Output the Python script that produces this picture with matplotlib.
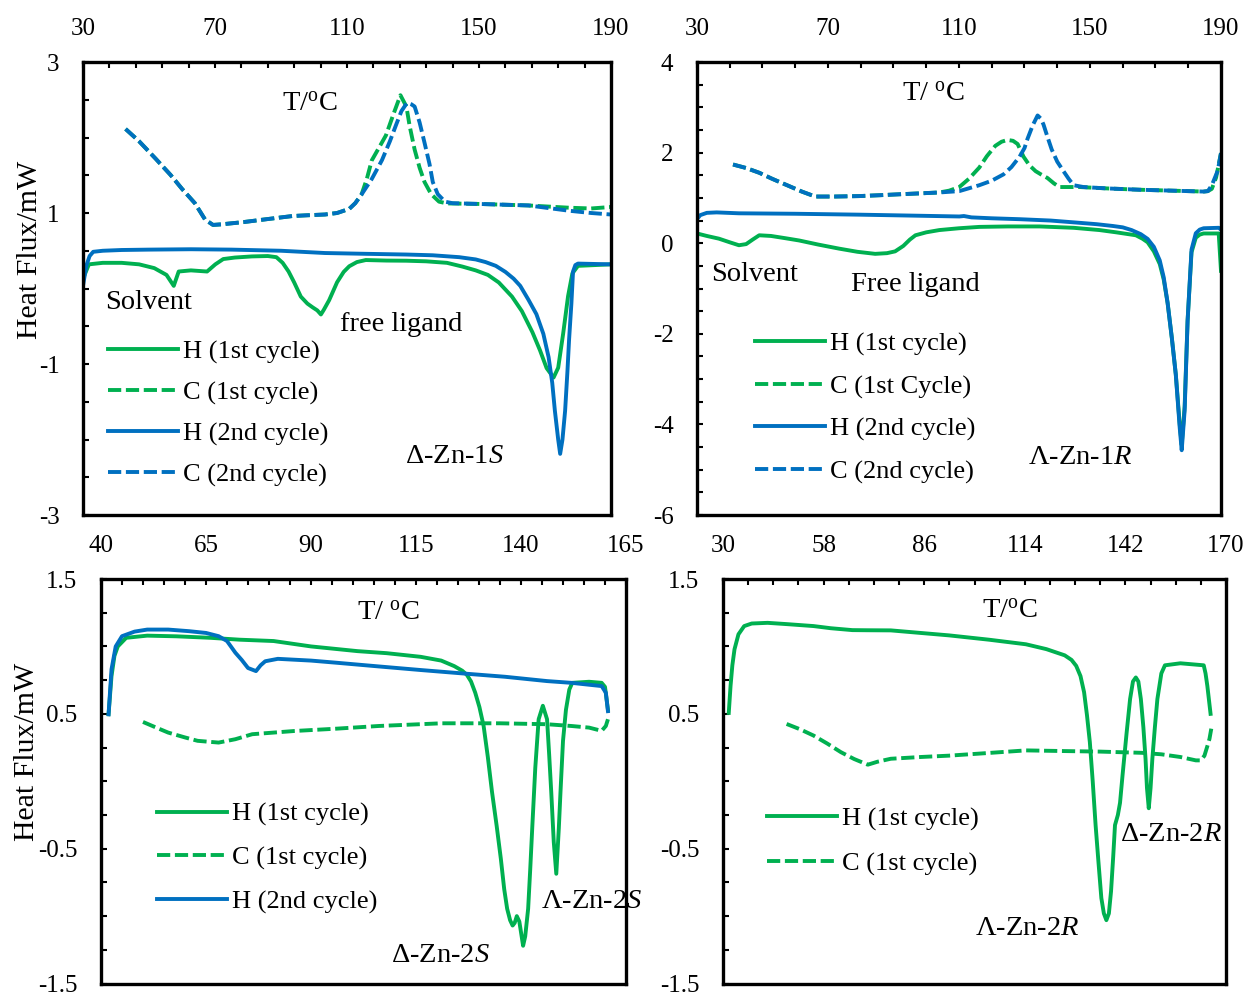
import matplotlib
matplotlib.use("Agg")
import numpy as np
import matplotlib.pyplot as plt
from matplotlib.ticker import FixedLocator

plt.rcParams["font.family"] = "Liberation Serif"
plt.rcParams["mathtext.fontset"] = "custom"
plt.rcParams["mathtext.rm"] = "Liberation Serif"
plt.rcParams["mathtext.it"] = "Liberation Serif:italic"
plt.rcParams["axes.unicode_minus"] = False

GREEN = "#00B050"
BLUE = "#0070C0"

# ---- Delta-Zn-1S ----
p1_h1_t = [30, 31.8, 36, 41.7, 47, 51.6, 55.3, 57.5, 59, 62.7, 67.6, 70.1, 72.5, 76, 81.2, 86, 88.6, 90.5,
           92.3, 94, 96, 98, 99.6, 101, 102.1, 103, 104.6, 107, 109, 110.7, 113, 115.7, 122, 128, 134, 140.3,
           145, 149, 152.7, 156, 160, 163, 166.2, 168.5, 170.5, 172.6, 174, 175.5, 177, 178.3, 180, 190]
p1_h1_v = [0.13, 0.32, 0.34, 0.34, 0.32, 0.27, 0.18, 0.035, 0.225, 0.24, 0.225, 0.32, 0.39, 0.41, 0.425, 0.43,
           0.415, 0.34, 0.225, 0.08, -0.107, -0.2, -0.25, -0.29, -0.344, -0.28, -0.154, 0.083, 0.22, 0.295,
           0.35, 0.377, 0.37, 0.368, 0.36, 0.34, 0.29, 0.24, 0.18, 0.08, -0.107, -0.3, -0.58, -0.82, -1.055,
           -1.18, -1.05, -0.6, -0.1, 0.2, 0.3, 0.32]
p1_h2_t = [30, 31, 32, 33.1, 36, 41.7, 50, 62.7, 75, 90, 103.3, 115, 128, 136, 144, 149, 152, 155.1, 158, 160.5,
           162.5, 165, 167.4, 169.5, 171.1, 172.2, 173, 174, 174.6, 175.3, 176.1, 176.8, 177.3, 178, 178.5,
           179.2, 180, 190]
p1_h2_v = [0.035, 0.3, 0.43, 0.486, 0.5, 0.51, 0.515, 0.52, 0.515, 0.5, 0.47, 0.46, 0.45, 0.44, 0.415, 0.385,
           0.35, 0.30, 0.22, 0.13, 0.035, -0.15, -0.34, -0.6, -0.91, -1.25, -1.62, -2.0, -2.19, -2.0, -1.62,
           -1.1, -0.68, -0.2, 0.225, 0.31, 0.33, 0.32]
p1_c1_t = [42.9, 47, 52, 56.5, 60, 63.9, 67, 69.4, 72, 78.7, 86, 93.5, 98, 103.3, 107, 110.7, 112.5, 114.4, 116,
           117.5, 119.5, 121.8, 124, 126.2, 128, 129, 130.5, 132, 133.5, 135.5, 137.9, 140.3, 150, 165, 177.3,
           184, 190]
p1_c1_v = [2.113, 1.95, 1.72, 1.506, 1.32, 1.13, 0.913, 0.842, 0.85, 0.88, 0.92, 0.96, 0.97, 0.98, 1.0, 1.055,
           1.13, 1.245, 1.45, 1.696, 1.85, 2.028, 2.3, 2.56, 2.41, 2.15, 1.84, 1.6, 1.41, 1.25, 1.15, 1.127,
           1.12, 1.10, 1.07, 1.06, 1.08]
p1_c2_t = [42.9, 47, 52, 56.5, 60, 63.9, 67, 69.4, 72, 78.7, 86, 93.5, 98, 103.3, 107, 110.7, 112.5, 114.4,
           117.5, 120.6, 123, 124.9, 126.5, 128.2, 129.5, 130.5, 132, 133.5, 135, 136, 137.5, 139.7, 142, 150,
           165, 177.3, 184, 190]
p1_c2_v = [2.113, 1.95, 1.72, 1.506, 1.32, 1.13, 0.913, 0.842, 0.85, 0.88, 0.92, 0.96, 0.97, 0.98, 1.0, 1.055,
           1.13, 1.245, 1.45, 1.70, 1.95, 2.17, 2.35, 2.46, 2.44, 2.41, 2.2, 1.93, 1.65, 1.41, 1.25, 1.15, 1.13,
           1.12, 1.10, 1.03, 1.0, 0.98]

# ---- Lambda-Zn-1R ----
p2_h1_t = [30, 33, 36.7, 40, 42.8, 45, 47, 49, 52.6, 57, 61.2, 67, 73.4, 79, 84.4, 88, 90.5, 93, 95, 96.7,
           100, 104, 110, 116.2, 125, 134.6, 145, 152.9, 158, 164, 166, 167.6, 169.5, 171.3, 172.5, 173.7, 175,
           176.2, 177.4, 178, 178.9, 179.8, 181, 182.3, 183.5, 184.7, 189.3, 190]
p2_h1_v = [0.215, 0.16, 0.10, 0.02, -0.045, -0.02, 0.08, 0.175, 0.16, 0.11, 0.06, -0.03, -0.12, -0.19, -0.235,
           -0.22, -0.18, -0.06, 0.08, 0.175, 0.24, 0.29, 0.33, 0.36, 0.37, 0.37, 0.34, 0.29, 0.24, 0.175, 0.1,
           0.02, -0.18, -0.46, -0.8, -1.32, -2.1, -2.9, -4.0, -4.45, -3.6, -1.7, -0.2, 0.12, 0.19, 0.215, 0.215,
           -0.61]
p2_h2_t = [30, 31, 33, 36, 42.8, 60, 79.5, 95, 110.1, 111.5, 113.8, 120, 128.5, 138, 146.8, 152, 157, 160,
           162.7, 165.5, 167.6, 169.5, 171.3, 172.5, 173.7, 175, 176.2, 177.4, 178, 178.9, 179.8, 181, 182.3,
           183.5, 184.7, 189.3, 190]
p2_h2_v = [0.53, 0.62, 0.67, 0.68, 0.66, 0.65, 0.63, 0.61, 0.59, 0.6, 0.57, 0.55, 0.53, 0.5, 0.45, 0.42, 0.38,
           0.35, 0.29, 0.2, 0.095, -0.08, -0.38, -0.75, -1.32, -2.1, -2.9, -4.08, -4.57, -3.69, -1.72, -0.14,
           0.22, 0.3, 0.33, 0.34, 0.3]
p2_c1_t = [41, 45, 49, 53, 57.5, 62, 66.1, 72, 79.5, 86, 91.8, 98, 104, 107, 110.1, 113, 116.2, 118.5, 121.1,
           123, 124.8, 126.5, 127.9, 129.7, 131.5, 133.4, 135, 137, 139, 140.7, 146.8, 155, 165.2, 175, 184.7,
           186, 187.2, 188.5, 190]
p2_c1_v = [1.737, 1.66, 1.555, 1.42, 1.28, 1.14, 1.03, 1.03, 1.04, 1.06, 1.08, 1.1, 1.12, 1.16, 1.24, 1.42,
           1.67, 1.92, 2.15, 2.24, 2.28, 2.26, 2.19, 1.91, 1.72, 1.59, 1.52, 1.44, 1.32, 1.24, 1.24, 1.21, 1.18,
           1.16, 1.14, 1.15, 1.2, 1.45, 1.99]
p2_c2_t = [41, 45, 49, 53, 57.5, 62, 66.1, 72, 79.5, 86, 91.8, 98, 104, 110.1, 116.2, 120, 123.6, 126, 128.5,
           130, 130.9, 132.5, 134, 135, 135.8, 137, 138.3, 140, 141.9, 143.5, 145, 148, 155, 165.2, 175, 184.7,
           186, 187.2, 189, 190]
p2_c2_v = [1.737, 1.66, 1.555, 1.42, 1.28, 1.14, 1.03, 1.03, 1.04, 1.06, 1.08, 1.1, 1.12, 1.15, 1.28, 1.38,
           1.52, 1.68, 1.91, 2.1, 2.30, 2.6, 2.82, 2.75, 2.62, 2.35, 2.07, 1.8, 1.59, 1.42, 1.28, 1.24, 1.21,
           1.18, 1.16, 1.14, 1.15, 1.28, 1.6, 1.99]

# ---- Zn-2S ----
p3_h1_t = [41.8, 42.5, 43.2, 44, 46, 51, 58, 66, 73, 81.1, 90, 101.1, 108, 116.1, 121, 124.1, 126, 127.1, 128.1,
           129.1, 130.1, 131.1, 132.1, 133.1, 134.2, 135.2, 136, 136.7, 137.4, 138, 138.5, 139, 139.6, 140,
           140.5, 141, 141.7, 142.2, 142.7, 143.4, 144.2, 145.2, 146.2, 146.7, 147.2, 147.8, 148.4, 149, 149.4,
           150, 150.7, 151.5, 152.2, 156.2, 159.2, 160, 160.7]
p3_h1_v = [0.497, 0.78, 0.93, 1.0, 1.064, 1.08, 1.075, 1.064, 1.05, 1.04, 1.0, 0.965, 0.95, 0.923, 0.895, 0.854,
           0.82, 0.79, 0.74, 0.657, 0.55, 0.41, 0.18, -0.08, -0.33, -0.575, -0.8, -0.945, -1.03, -1.07, -1.05,
           -1.0, -1.04, -1.12, -1.22, -1.15, -0.945, -0.65, -0.33, 0.1, 0.46, 0.56, 0.46, 0.2, -0.08, -0.45,
           -0.686, -0.35, -0.08, 0.3, 0.53, 0.68, 0.73, 0.738, 0.73, 0.7, 0.53]
p3_h2_t = [41.8, 42.5, 43.5, 45, 48, 51, 56, 61, 65, 68, 70, 72, 73.5, 75, 76.9, 78, 79.1, 82.1, 90, 96.1, 106,
           116.1, 126, 136.2, 146.2, 152, 159.2, 160.2, 160.7]
p3_h2_v = [0.497, 0.83, 1.0, 1.076, 1.11, 1.125, 1.125, 1.113, 1.1, 1.076, 1.04, 0.953, 0.9, 0.84, 0.817, 0.86,
           0.89, 0.908, 0.895, 0.879, 0.852, 0.825, 0.8, 0.775, 0.743, 0.73, 0.706, 0.657, 0.52]
p3_c1_t = [50, 53, 56, 60, 63, 68, 72, 76, 86.1, 96, 106.1, 121.1, 135, 146.2, 152, 156.2, 159.2, 160.2, 160.7]
p3_c1_v = [0.44, 0.4, 0.361, 0.325, 0.30, 0.287, 0.312, 0.349, 0.373, 0.39, 0.41, 0.43, 0.43, 0.423, 0.41,
           0.398, 0.374, 0.41, 0.46]

# ---- Zn-2R ----
p4_h1_t = [31.6, 32.1, 32.6, 33.2, 34.3, 35.9, 38, 42.4, 48, 55.2, 60, 66, 70, 76.7, 85, 92.9, 104, 114.3, 120,
           125.1, 127, 128.3, 129.5, 130.5, 131.3, 132.1, 132.9, 133.7, 134.5, 135.3, 136, 136.7, 137.4, 138,
           138.6, 139.1, 139.9, 140.5, 141.2, 142.3, 143.3, 144.1, 144.9, 145.6, 146.3, 147, 147.6, 148, 148.5,
           149, 149.5, 150.2, 150.9, 152, 153, 157.3, 163.8, 164.3, 164.8, 165.7]
p4_h1_v = [0.507, 0.708, 0.86, 0.979, 1.09, 1.151, 1.17, 1.175, 1.165, 1.151, 1.135, 1.121, 1.12, 1.119, 1.1,
           1.082, 1.05, 1.016, 0.98, 0.934, 0.9, 0.856, 0.78, 0.66, 0.49, 0.29, 0.0, -0.325, -0.6, -0.866,
           -0.98, -1.03, -0.98, -0.816, -0.56, -0.325, -0.25, -0.16, 0.044, 0.35, 0.61, 0.74, 0.77, 0.74, 0.61,
           0.4, 0.167, -0.05, -0.20, -0.05, 0.167, 0.4, 0.61, 0.8, 0.86, 0.875, 0.86, 0.8, 0.708, 0.5]
p4_c1_t = [47.7, 51.5, 55.2, 59, 62.8, 66.5, 70.3, 73, 76.7, 85, 92.9, 104, 114.3, 125.1, 135, 146.6, 152,
           157.3, 161.6, 163, 164, 164.8, 165.4, 165.9]
p4_c1_v = [0.425, 0.385, 0.339, 0.28, 0.216, 0.165, 0.123, 0.145, 0.167, 0.18, 0.19, 0.21, 0.229, 0.224, 0.22,
           0.211, 0.2, 0.18, 0.155, 0.155, 0.19, 0.26, 0.315, 0.39]

TXT = 20.5
LW = 2.8
DASH = (3.4, 1.2)
DEG = "$^{\\mathrm{o}}$"


def steps(lo, hi, step):
    return np.arange(lo, hi + step / 2, step)


def style_axes(ax, xlim, xmajor, xminor, ylim, ymajor, yminor):
    ax.set_xlim(*xlim)
    ax.set_ylim(*ylim)
    ax.xaxis.set_major_locator(FixedLocator(steps(xlim[0], xlim[1], xmajor)))
    ax.xaxis.set_minor_locator(FixedLocator(steps(xlim[0], xlim[1], xminor)))
    ax.yaxis.set_major_locator(FixedLocator(steps(ylim[0], ylim[1], ymajor)))
    ax.yaxis.set_minor_locator(FixedLocator(steps(ylim[0], ylim[1], yminor)))
    ax.tick_params(axis="x", which="both", top=True, bottom=False, labeltop=True, labelbottom=False,
                   direction="in", length=4, width=1.5, pad=16, labelsize=18)
    ax.tick_params(axis="y", which="both", left=True, right=False, direction="in", length=4, width=1.5,
                   pad=17, labelsize=18)
    for s in ax.spines.values():
        s.set_linewidth(2.4)
        s.set_zorder(5)


def add_legend(ax, anchor, spacing):
    ax.legend(loc="upper left", bbox_to_anchor=anchor, frameon=False, fontsize=19,
              handlelength=2.65, handletextpad=0.2, labelspacing=spacing, borderpad=0, borderaxespad=0)


fig = plt.figure(figsize=(12.47, 9.97), dpi=100)

# top left
ax1 = fig.add_axes([0.06656, 0.48345, 0.4234, 0.45436])
ax1.plot(p1_h1_t, p1_h1_v, color=GREEN, lw=LW, label="H (1st cycle)")
ax1.plot(p1_c1_t, p1_c1_v, color=GREEN, lw=LW, dashes=DASH, label="C (1st cycle)")
ax1.plot(p1_h2_t, p1_h2_v, color=BLUE, lw=LW, label="H (2nd cycle)")
ax1.plot(p1_c2_t, p1_c2_v, color=BLUE, lw=LW, dashes=DASH, label="C (2nd cycle)")
style_axes(ax1, (30, 190), 40, 8, (-3, 3), 2, 0.5)
ax1.text(98.8, 2.43, "T/" + DEG + "C", fontsize=TXT, ha="center", va="center")
ax1.text(36.7, -0.19, "Solvent", fontsize=TXT, ha="left", va="center")
ax1.text(107.9, -0.48, "free ligand", fontsize=TXT, ha="left", va="center")
ax1.text(127.6, -2.22, "Δ-Zn-1$\\mathit{S}$", fontsize=TXT, ha="left", va="center")
add_legend(ax1, (0.047, 0.387), 0.65)

# top right
ax2 = fig.add_axes([0.55894, 0.48345, 0.42021, 0.45436])
ax2.plot(p2_h1_t, p2_h1_v, color=GREEN, lw=LW, label="H (1st cycle)")
ax2.plot(p2_c1_t, p2_c1_v, color=GREEN, lw=LW, dashes=DASH, label="C (1st Cycle)")
ax2.plot(p2_h2_t, p2_h2_v, color=BLUE, lw=LW, label="H (2nd cycle)")
ax2.plot(p2_c2_t, p2_c2_v, color=BLUE, lw=LW, dashes=DASH, label="C (2nd cycle)")
style_axes(ax2, (30, 190), 40, 10, (-6, 4), 2, 0.5)
ax2.text(102.1, 3.27, "T/ " + DEG + "C", fontsize=TXT, ha="center", va="center")
ax2.text(34.3, -0.69, "Solvent", fontsize=TXT, ha="left", va="center")
ax2.text(77, -0.91, "Free ligand", fontsize=TXT, ha="left", va="center")
ax2.text(131.1, -4.72, "Λ-Zn-1$\\mathit{R}$", fontsize=TXT, ha="left", va="center")
add_legend(ax2, (0.111, 0.404), 0.71)

# bottom left
ax3 = fig.add_axes([0.081, 0.0135, 0.42101, 0.40575])
ax3.plot(p3_h1_t, p3_h1_v, color=GREEN, lw=LW, label="H (1st cycle)")
ax3.plot(p3_c1_t, p3_c1_v, color=GREEN, lw=LW, dashes=DASH, label="C (1st cycle)")
ax3.plot(p3_h2_t, p3_h2_v, color=BLUE, lw=LW, label="H (2nd cycle)")
style_axes(ax3, (40, 165), 25, 5, (-1.5, 1.5), 1, 0.25)
ax3.text(108.3, 1.242, "T/ " + DEG + "C", fontsize=TXT, ha="center", va="center")
ax3.text(109, -1.293, "Δ-Zn-2$\\mathit{S}$", fontsize=TXT, ha="left", va="center")
ax3.text(144.8, -0.895, "Λ-Zn-2$\\mathit{S}$", fontsize=TXT, ha="left", va="center", clip_on=False, zorder=6)
add_legend(ax3, (0.107, 0.448), 0.76)

# bottom right
ax4 = fig.add_axes([0.5798, 0.0135, 0.40337, 0.40575])
ax4.plot(p4_h1_t, p4_h1_v, color=GREEN, lw=LW, label="H (1st cycle)")
ax4.plot(p4_c1_t, p4_c1_v, color=GREEN, lw=LW, dashes=DASH, label="C (1st cycle)")
style_axes(ax4, (30, 170), 28, 7, (-1.5, 1.5), 1, 0.25)
ax4.text(109.9, 1.256, "T/" + DEG + "C", fontsize=TXT, ha="center", va="center")
ax4.text(140.5, -0.392, "Δ-Zn-2$\\mathit{R}$", fontsize=TXT, ha="left", va="center")
ax4.text(100.1, -1.094, "Λ-Zn-2$\\mathit{R}$", fontsize=TXT, ha="left", va="center")
add_legend(ax4, (0.0875, 0.437), 0.81)

fig.text(0.024, 1 - 250 / 997, "Heat Flux/mW", rotation=90, ha="center", va="center", fontsize=21.5)
fig.text(0.022, 1 - 752 / 997, "Heat Flux/mW", rotation=90, ha="center", va="center", fontsize=21.5)

fig.savefig("out.png", dpi=100)
